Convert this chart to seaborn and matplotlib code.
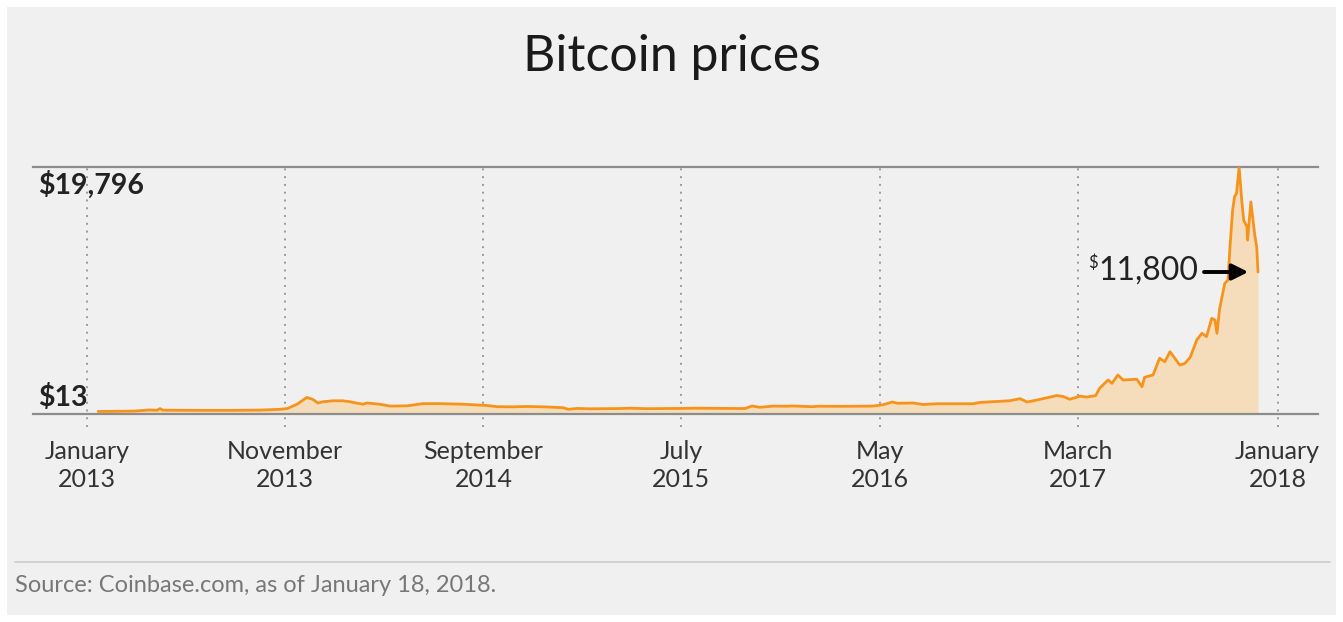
import pandas as pd
import matplotlib
matplotlib.use("Agg")
import matplotlib.pyplot as plt
from matplotlib.patches import Rectangle
from matplotlib.lines import Line2D
import seaborn as sns

# Data (approximate)
dates = [
    "2013-01-18", "2013-02-13", "2013-03-15", "2013-04-07", "2013-04-18", "2013-04-23",
    "2013-04-27", "2013-05-08", "2013-06-23", "2013-08-08", "2013-09-23", "2013-10-24",
    "2013-11-04", "2013-11-19", "2013-12-04", "2013-12-13", "2013-12-21", "2013-12-29",
    "2014-01-13", "2014-01-28", "2014-02-08", "2014-02-28", "2014-03-06", "2014-03-26",
    "2014-04-11", "2014-05-07", "2014-05-31", "2014-06-26", "2014-08-01", "2014-09-06",
    "2014-09-22", "2014-10-16", "2014-11-07", "2014-12-07", "2015-01-01", "2015-01-09",
    "2015-01-23", "2015-02-11", "2015-03-29", "2015-04-14", "2015-05-10", "2015-06-29",
    "2015-07-25", "2015-10-07", "2015-10-18", "2015-10-30", "2015-11-19", "2015-12-10",
    "2015-12-20", "2016-01-19", "2016-01-27", "2016-03-01", "2016-04-20", "2016-05-06",
    "2016-05-20", "2016-05-28", "2016-06-21", "2016-07-06", "2016-07-28", "2016-09-21",
    "2016-10-02", "2016-11-16", "2016-12-02", "2016-12-13", "2017-01-02", "2017-01-27",
    "2017-02-06", "2017-02-16", "2017-03-04", "2017-03-14", "2017-03-28", "2017-04-03",
    "2017-04-16", "2017-04-22", "2017-05-01", "2017-05-09", "2017-05-30", "2017-06-07",
    "2017-06-11", "2017-06-24", "2017-07-04", "2017-07-12", "2017-07-20", "2017-08-04",
    "2017-08-12", "2017-08-20", "2017-08-30", "2017-09-07", "2017-09-14", "2017-09-22",
    "2017-09-27", "2017-09-30", "2017-10-04", "2017-10-12", "2017-10-17", "2017-10-20",
    "2017-10-24", "2017-10-27", "2017-10-30", "2017-11-03", "2017-11-07", "2017-11-10",
    "2017-11-15", "2017-11-16", "2017-11-21", "2017-11-24", "2017-11-27", "2017-11-30",
    "2017-12-02",
]
prices = [
    15, 25, 47, 140, 110, 250,
    120, 115, 105, 105, 125, 190,
    250, 600, 1150, 1000, 700, 800,
    880, 880, 800, 600, 700, 600,
    450, 470, 650, 650, 600, 500,
    400, 390, 420, 380, 320, 190,
    260, 230, 250, 280, 240, 260,
    280, 250, 460, 350, 450, 440,
    460, 400, 440, 430, 450, 560,
    780, 680, 700, 580, 640, 640,
    750, 880, 1050, 780, 1000, 1300,
    1230, 1000, 1250, 1180, 1300, 1890,
    2560, 2290, 2965, 2560, 2620, 2020,
    2780, 2965, 4320, 4040, 4850, 3770,
    3910, 4400, 5800, 6340, 6070, 7550,
    7410, 6340, 8300, 10380, 10650, 13340,
    16300, 17390, 17660, 19796, 17120, 15500,
    14960, 13880, 16980, 15640, 14290, 13340,
    11300,
]

tick_dates = ["2013-01-01", "2013-11-01", "2014-09-01", "2015-07-01",
              "2016-05-01", "2017-03-01", "2018-01-01"]
tick_labels = ["January\n2013", "November\n2013", "September\n2014", "July\n2015",
               "May\n2016", "March\n2017", "January\n2018"]

price_high = 19796
price_low = 13
label_price = "11,800"

TITLE = "Bitcoin prices"
SOURCE = "Source: Coinbase.com, as of January 18, 2018."

ORANGE = "#f7931a"
FILL = "#f5ddbc"
PANEL = "#f0f0f0"

df = pd.DataFrame({"date": pd.to_datetime(dates), "price": prices})
ticks = pd.to_datetime(tick_dates)

sns.set_theme(style="white")
plt.rcParams["font.family"] = ["Lato", "DejaVu Sans"]

W, H = 1343, 622
fig = plt.figure(figsize=(W / 100, H / 100), dpi=100, facecolor="white")
fig.patches.append(Rectangle((7 / W, 7 / H), (1336 - 7) / W, (615 - 7) / H,
                             transform=fig.transFigure, facecolor=PANEL,
                             edgecolor="none", zorder=-10))

ax = fig.add_axes([33 / W, (H - 413.5) / H, (1318 - 33) / W, (413.5 - 167) / H])
ax.set_facecolor("none")

sns.lineplot(data=df, x="date", y="price", ax=ax, color=ORANGE, lw=2.0, zorder=3)
ax.fill_between(df["date"], df["price"], -500, color=FILL, lw=0, zorder=2)

ax.set_xlim(pd.Timestamp("2012-10-10"), pd.Timestamp("2018-03-04"))
ax.set_ylim(-150, price_high)

# only the top and bottom rules stay
for side in ["left", "right"]:
    ax.spines[side].set_visible(False)
for side in ["top", "bottom"]:
    ax.spines[side].set_visible(True)
    ax.spines[side].set_color("#8c8c8c")
    ax.spines[side].set_linewidth(1.6)

# dotted vertical gridlines
for d in ticks:
    ax.axvline(d, ymin=-0.055, ymax=1, color="#9a9a9a", lw=1.4,
               ls=(0, (1, 3)), clip_on=False, zorder=1)

ax.set_xticks(ticks)
ax.set_xticklabels(tick_labels, fontsize=18, color="#333333", linespacing=1.3)
ax.tick_params(axis="x", length=0, pad=18.8)
ax.set_yticks([])
ax.set_xlabel("")
ax.set_ylabel("")

# value labels on the left
ax.annotate(f"${price_high:,}", xy=(0.004, price_high), xycoords=("axes fraction", "data"),
            xytext=(0, -3), textcoords="offset points", ha="left", va="top",
            fontsize=20.5, fontweight="bold", color="#222222")
ax.annotate(f"${price_low}", xy=(0.004, price_low), xycoords=("axes fraction", "data"),
            xytext=(0, 4), textcoords="offset points", ha="left", va="baseline",
            fontsize=20.5, fontweight="bold", color="#222222")

# latest price callout
last_date = df["date"].iloc[-1]
last_price = df["price"].iloc[-1]
ax.annotate("", xy=(last_date, last_price), xytext=(-54, 0), textcoords="offset pixels",
            arrowprops=dict(arrowstyle="-|>", color="black", lw=2.8,
                            mutation_scale=24, shrinkA=0, shrinkB=7), zorder=5)
ax.annotate(label_price, xy=(last_date, last_price), xytext=(-60, 1),
            textcoords="offset pixels", ha="right", va="center",
            fontsize=23, color="#222222", zorder=5)
ax.annotate("$", xy=(last_date, last_price), xytext=(-160, 9),
            textcoords="offset pixels", ha="right", va="center",
            fontsize=12, color="#222222", zorder=5)

fig.text(0.5, 1 - 57 / H, TITLE, ha="center", va="center", fontsize=36, color="#1a1a1a")
fig.add_artist(Line2D([15 / W, 1330 / W], [1 - 562 / H, 1 - 562 / H],
                      transform=fig.transFigure, color="#cccccc", lw=1.2))
fig.text(15 / W, 1 - 586 / H, SOURCE, ha="left", va="center", fontsize=17, color="#777777")

fig.savefig("out.png", dpi=100, facecolor=fig.get_facecolor())
